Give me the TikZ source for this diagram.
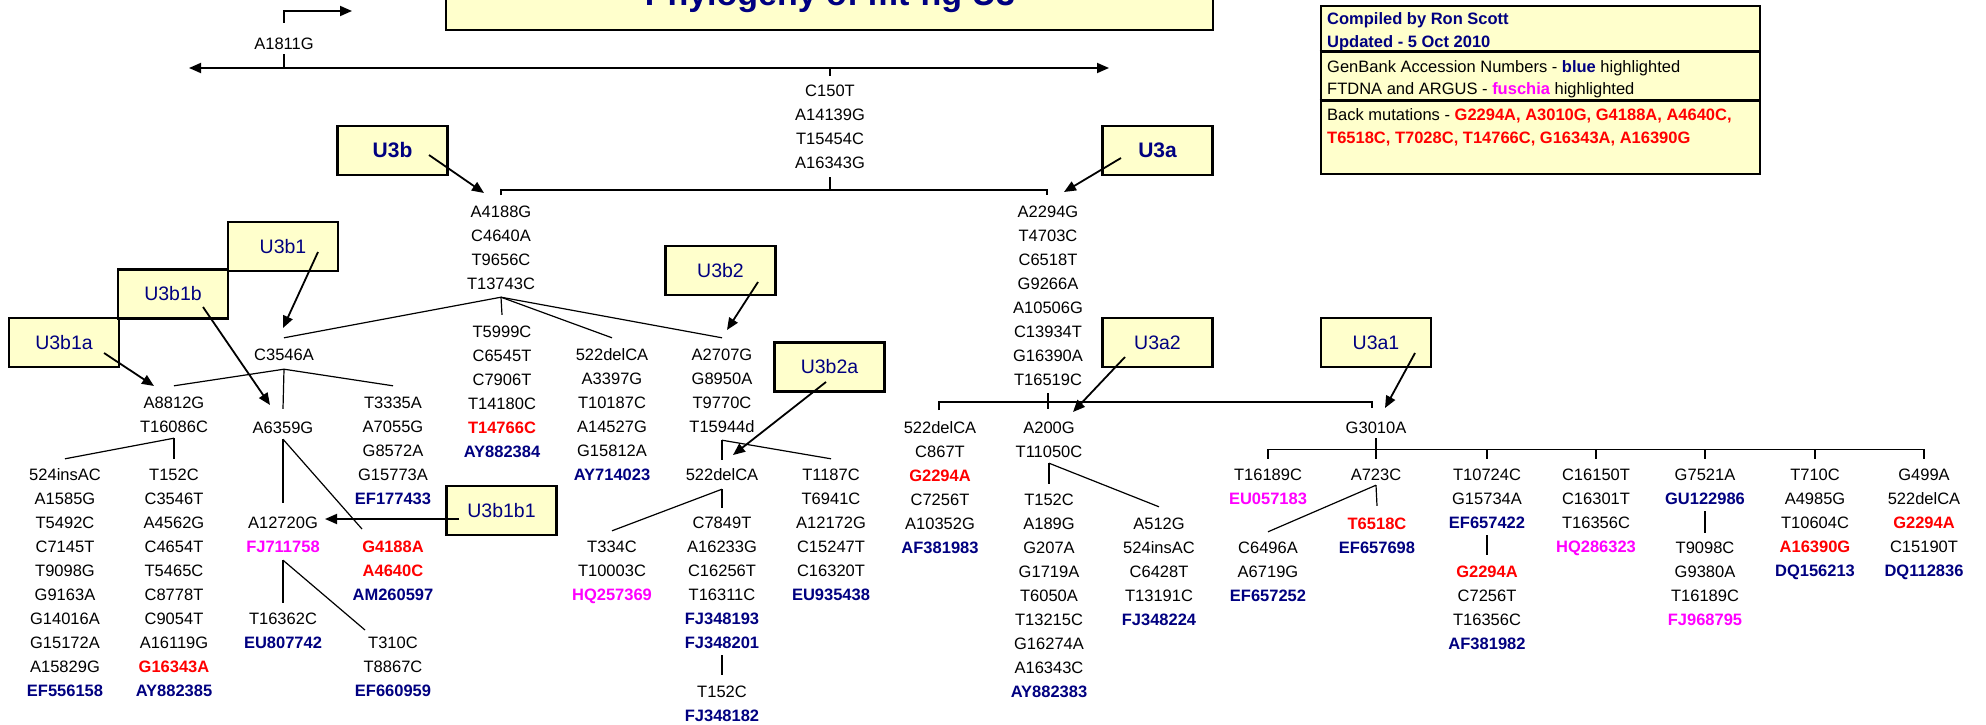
\documentclass[tikz,border=0pt]{standalone}
\usepackage{fontspec}
\setmainfont{Liberation Sans}
\usetikzlibrary{arrows.meta}
\definecolor{hgnavy}{RGB}{0,0,128}
\definecolor{hgred}{RGB}{255,0,0}
\definecolor{hgpink}{RGB}{255,0,255}
\definecolor{hgyellow}{RGB}{255,255,204}
\newcommand{\gbk}[1]{\textbf{\color{hgnavy}#1}}
\newcommand{\ftd}[1]{\textbf{\color{hgpink}#1}}
\newcommand{\bmut}[1]{\textbf{\color{hgred}#1}}
\begin{document}
\begin{tikzpicture}[x=1pt,y=-1pt,
   mut/.style={font=\fontsize{16.5}{20}\selectfont,inner sep=0pt,text height=12pt,text depth=0pt},
   legend/.style={mut,anchor=west},
   tree/.style={line width=1.2pt},
   hgarrow/.style={line width=1.8pt,-{Triangle[length=12pt,width=10pt]}},
   hgspan/.style={line width=1.8pt,{Triangle[length=12pt,width=10pt]}-{Triangle[length=12pt,width=10pt]}},
   hgbox/.style={draw,line width=2.8pt,fill=hgyellow,text=hgnavy,minimum width=110pt,minimum height=49pt,inner sep=0pt,font=\fontsize{19.5}{22}\selectfont},
   hgbold/.style={hgbox,font=\bfseries\fontsize{21}{24}\selectfont}]
   \useasboundingbox (0,0) rectangle (1986,725);
   \clip (0,0) rectangle (1986,725);

   % title and legend
   \node[draw,line width=2.8pt,fill=hgyellow,minimum width=767pt,minimum height=100pt,inner sep=0pt] (title-box) at (829.5,-20) {};
   \node[anchor=base,inner sep=0pt,text=hgnavy,font=\bfseries\fontsize{34}{40}\selectfont] (title) at (830,6) {Phylogeny of mt-hg U3};
   \node[draw,line width=2.8pt,fill=hgyellow,minimum width=439pt,minimum height=168pt,inner sep=0pt] (legend-box) at (1540.5,90) {};
   \draw[line width=2.8pt] ([yshift=-47pt]legend-box.north west) -- ([yshift=-47pt]legend-box.north east);
   \draw[line width=2.8pt] ([yshift=-96pt]legend-box.north west) -- ([yshift=-96pt]legend-box.north east);
   \node[legend] (lg-1) at (1327,19) {\textbf{\color{hgnavy}Compiled by Ron Scott}};
   \node[legend] (lg-2) at (1327,42) {\textbf{\color{hgnavy}Updated - 5 Oct 2010}};
   \node[legend] (lg-3) at (1327,66) {GenBank Accession Numbers - \gbk{blue} highlighted};
   \node[legend] (lg-4) at (1327,89) {FTDNA and ARGUS - \ftd{fuschia} highlighted};
   \node[legend] (lg-5) at (1327,114) {Back mutations - \bmut{G2294A, A3010G, G4188A, A4640C,}};
   \node[legend] (lg-6) at (1327,137) {\bmut{T6518C, T7028C, T14766C, G16343A, A16390G}};

   % root
   \node[mut] (a1811) at (284,43) {A1811G};
   \coordinate (a1811-to) at (352,11);
   \draw[hgarrow] ([yshift=14pt]a1811.north) |- (a1811-to);
   \draw[tree] ([yshift=-5pt]a1811.south) -- ++(0,14);
   \coordinate (span-l) at (189,68);
   \coordinate (span-r) at (1109,68);
   \coordinate (span-m) at (830,68);
   \draw[hgspan] (span-l) -- (span-r);
   \foreach \m [count=\i from 0] in {C150T,A14139G,T15454C,A16343G}
      \node[mut] (root-\i) at (830,90+24*\i) {\m};
   \draw[tree] (span-m) -- ([yshift=8pt]root-0.north);
   \coordinate (u3-bar) at (830,190);
   \coordinate (u3b-top) at (501,195);
   \coordinate (u3a-top) at (1047,195);
   \draw[tree] ([yshift=-9pt]root-3.south) -- (u3-bar);
   \draw[tree] (u3b-top) -- ++(0,-5) -| (u3a-top);

   % U3b
   \foreach \m [count=\i from 0] in {A4188G,C4640A,T9656C,T13743C}
      \node[mut] (u3bm-\i) at (501,211+24*\i) {\m};
   \node[mut] (c3546a) at (284,354) {C3546A};
   \foreach \m [count=\i from 0] in {A8812G,T16086C}
      \node[mut] (b1a-\i) at (174,402+24*\i) {\m};
   \node[mut] (a6359g) at (283,427) {A6359G};
   \foreach \m [count=\i from 0] in {T3335A,A7055G,G8572A,G15773A,\gbk{EF177433}}
      \node[mut] (t3335a-\i) at (393,402+24*\i) {\m};
   \foreach \m [count=\i from 0] in {524insAC,A1585G,T5492C,C7145T,T9098G,G9163A,G14016A,G15172A,A15829G,\gbk{EF556158}}
      \node[mut] (la-\i) at (65,474+24*\i) {\m};
   \foreach \m [count=\i from 0] in {T152C,C3546T,A4562G,C4654T,T5465C,C8778T,C9054T,A16119G,\bmut{G16343A},\gbk{AY882385}}
      \node[mut] (lb-\i) at (174,474+24*\i) {\m};
   \foreach \m [count=\i from 0] in {A12720G,\ftd{FJ711758}}
      \node[mut] (b1b1-\i) at (283,522+24*\i) {\m};
   \foreach \m [count=\i from 0] in {\bmut{G4188A},\bmut{A4640C},\gbk{AM260597}}
      \node[mut] (g4188a-\i) at (393,546+24*\i) {\m};
   \foreach \m [count=\i from 0] in {T16362C,\gbk{EU807742}}
      \node[mut] (t16362c-\i) at (283,618+24*\i) {\m};
   \foreach \m [count=\i from 0] in {T310C,T8867C,\gbk{EF660959}}
      \node[mut] (t310c-\i) at (393,642+24*\i) {\m};
   \foreach \m [count=\i from 0] in {T5999C,C6545T,C7906T,T14180C,\bmut{T14766C},\gbk{AY882384}}
      \node[mut] (t5999c-\i) at (502,331+24*\i) {\m};
   \foreach \m [count=\i from 0] in {522delCA,A3397G,T10187C,A14527G,G15812A,\gbk{AY714023}}
      \node[mut] (dca-\i) at (612,354+24*\i) {\m};
   \foreach \m [count=\i from 0] in {A2707G,G8950A,T9770C,T15944d}
      \node[mut] (b2-\i) at (722,354+24*\i) {\m};
   \node[mut] (b2a) at (722,474) {522delCA};
   \foreach \m [count=\i from 0] in {C7849T,A16233G,C16256T,T16311C,\gbk{FJ348193},\gbk{FJ348201}}
      \node[mut] (c7849t-\i) at (722,522+24*\i) {\m};
   \foreach \m [count=\i from 0] in {T152C,\gbk{FJ348182}}
      \node[mut] (t152c3-\i) at (722,691+24*\i) {\m};
   \foreach \m [count=\i from 0] in {T334C,T10003C,\ftd{HQ257369}}
      \node[mut] (t334c-\i) at (612,546+24*\i) {\m};
   \foreach \m [count=\i from 0] in {T1187C,T6941C,A12172G,C15247T,C16320T,\gbk{EU935438}}
      \node[mut] (t1187c-\i) at (831,474+24*\i) {\m};

   \coordinate (fk-u3b) at ([yshift=-8pt]u3bm-3.south);
   \draw[tree] (fk-u3b) -- ([yshift=10pt]c3546a.north);
   \draw[tree] (fk-u3b) -- ([yshift=10pt]t5999c-0.north);
   \draw[tree] (fk-u3b) -- ([yshift=10pt]dca-0.north);
   \draw[tree] (fk-u3b) -- ([yshift=10pt]b2-0.north);
   \coordinate (fk-c3546a) at ([yshift=-9pt]c3546a.south);
   \draw[tree] (fk-c3546a) -- ([yshift=10pt]b1a-0.north);
   \draw[tree] (fk-c3546a) -- ([yshift=12pt]a6359g.north);
   \draw[tree] (fk-c3546a) -- ([yshift=10pt]t3335a-0.north);
   \coordinate (fk-t16086c) at ([yshift=-6pt]b1a-1.south);
   \draw[tree] (fk-t16086c) -- ([yshift=9pt]la-0.north);
   \draw[tree] (fk-t16086c) -- ([yshift=9pt]lb-0.north);
   \coordinate (fk-a6359g) at ([yshift=-6pt]a6359g.south);
   \coordinate (g4188a-end) at (362,529);
   \draw[tree] (fk-a6359g) -- ([yshift=13pt]b1b1-0.north);
   \draw[tree] (fk-a6359g) -- (g4188a-end);
   \coordinate (fk-a12720g) at ([yshift=-8pt]b1b1-1.south);
   \coordinate (t310c-end) at (365,630);
   \draw[tree] (fk-a12720g) -- ([yshift=9pt]t16362c-0.north);
   \draw[tree] (fk-a12720g) -- (t310c-end);
   \coordinate (fk-t15944d) at ([yshift=-8pt]b2-3.south);
   \draw[tree] (fk-t15944d) -- ([yshift=8pt]b2a.north);
   \draw[tree] (fk-t15944d) -- ([yshift=9pt]t1187c-0.north);
   \coordinate (fk-b2a) at ([yshift=-9pt]b2a.south);
   \draw[tree] (fk-b2a) -- ([yshift=8pt]c7849t-0.north);
   \draw[tree] (fk-b2a) -- ([yshift=9pt]t334c-0.north);
   \draw[tree] ([yshift=-7pt]c7849t-5.south) -- ([yshift=10pt]t152c3-0.north);

   % U3a
   \foreach \m [count=\i from 0] in {A2294G,T4703C,C6518T,G9266A,A10506G,C13934T,G16390A,T16519C}
      \node[mut] (u3am-\i) at (1048,211+24*\i) {\m};
   \foreach \m [count=\i from 0] in {522delCA,C867T,\bmut{G2294A},C7256T,A10352G,\gbk{AF381983}}
      \node[mut] (dca3-\i) at (940,427+24*\i) {\m};
   \foreach \m [count=\i from 0] in {A200G,T11050C}
      \node[mut] (a2-\i) at (1049,427+24*\i) {\m};
   \foreach \m [count=\i from 0] in {T152C,A189G,G207A,G1719A,T6050A,T13215C,G16274A,A16343C,\gbk{AY882383}}
      \node[mut] (t152c2-\i) at (1049,499+24*\i) {\m};
   \foreach \m [count=\i from 0] in {A512G,524insAC,C6428T,T13191C,\gbk{FJ348224}}
      \node[mut] (a512g-\i) at (1159,523+24*\i) {\m};
   \node[mut] (g3010a) at (1376,427) {G3010A};
   \foreach \m [count=\i from 0] in {T16189C,\ftd{EU057183}}
      \node[mut] (r1-\i) at (1268,474+24*\i) {\m};
   \foreach \m [count=\i from 0] in {C6496A,A6719G,\gbk{EF657252}}
      \node[mut] (r1b-\i) at (1268,547+24*\i) {\m};
   \node[mut] (r2-0) at (1376,474) {A723C};
   \foreach \m [count=\i from 0] in {\bmut{T6518C},\gbk{EF657698}}
      \node[mut] (r2b-\i) at (1377,523+24*\i) {\m};
   \foreach \m [count=\i from 0] in {T10724C,G15734A,\gbk{EF657422}}
      \node[mut] (r3-\i) at (1487,474+24*\i) {\m};
   \foreach \m [count=\i from 0] in {\bmut{G2294A},C7256T,T16356C,\gbk{AF381982}}
      \node[mut] (r3b-\i) at (1487,571+24*\i) {\m};
   \foreach \m [count=\i from 0] in {C16150T,C16301T,T16356C,\ftd{HQ286323}}
      \node[mut] (r4-\i) at (1596,474+24*\i) {\m};
   \foreach \m [count=\i from 0] in {G7521A,\gbk{GU122986}}
      \node[mut] (r5-\i) at (1705,474+24*\i) {\m};
   \foreach \m [count=\i from 0] in {T9098C,G9380A,T16189C,\ftd{FJ968795}}
      \node[mut] (r5b-\i) at (1705,547+24*\i) {\m};
   \foreach \m [count=\i from 0] in {T710C,A4985G,T10604C,\bmut{A16390G},\gbk{DQ156213}}
      \node[mut] (r6-\i) at (1815,474+24*\i) {\m};
   \foreach \m [count=\i from 0] in {G499A,522delCA,\bmut{G2294A},C15190T,\gbk{DQ112836}}
      \node[mut] (r7-\i) at (1924,474+24*\i) {\m};

   \coordinate (u3a-drop) at (1048,409);
   \coordinate (dca3-top) at (939,410);
   \coordinate (g3010a-top) at (1372,408);
   \draw[tree] ([yshift=-8pt]u3am-7.south) -- (u3a-drop);
   \draw[tree] (dca3-top) -- ++(0,-8) -| (g3010a-top);
   \coordinate (fk-a2) at ([yshift=-6pt]a2-1.south);
   \draw[tree] (fk-a2) -- ([yshift=9pt]t152c2-0.north);
   \draw[tree] (fk-a2) -- ([yshift=10pt]a512g-0.north);
   \draw[tree] ([yshift=-5pt]g3010a.south) -- ([yshift=9pt]r2-0.north);
   \draw[tree] ([yshift=9pt]r1-0.north) -- ++(0,-9) -| ([yshift=9pt]r7-0.north);
   \foreach \c in {r3,r4,r5,r6}
      \draw[tree] ([yshift=9pt]\c-0.north) -- ++(0,-9);
   \coordinate (fk-r2) at ([yshift=-5pt]r2-0.south);
   \draw[tree] (fk-r2) -- ([yshift=11pt]r2b-0.north);
   \draw[tree] (fk-r2) -- ([yshift=9pt]r1b-0.north);
   \draw[tree] ([yshift=-7pt]r3-2.south) -- ([yshift=10pt]r3b-0.north);
   \draw[tree] ([yshift=-7pt]r5-1.south) -- ([yshift=8pt]r5b-0.north);

   % haplogroup labels
   \node[hgbold] (u3b) at (392.5,150.5) {U3b};
   \node[hgbold] (u3a) at (1157.5,150.5) {U3a};
   \node[hgbox] (u3b1a) at (64,342.5) {U3b1a};
   \node[hgbox] (u3b1b) at (173,294) {U3b1b};
   \node[hgbox] (u3b1) at (283,246.5) {U3b1};
   \node[hgbox] (u3b1b1) at (501.5,510.5) {U3b1b1};
   \node[hgbox] (u3b2) at (720.5,270.5) {U3b2};
   \node[hgbox] (u3b2a) at (829.5,367) {U3b2a};
   \node[hgbox] (u3a2) at (1157.5,342.5) {U3a2};
   \node[hgbox] (u3a1) at (1376,342.5) {U3a1};
   \coordinate (u3b-tip) at (484,193);
   \coordinate (u3a-tip) at (1064,192);
   \coordinate (u3b1-tip) at (283,328);
   \coordinate (u3b1b-tip) at (270,405);
   \coordinate (u3b1a-tip) at (154,386);
   \coordinate (u3b1b1-tip) at (325,519);
   \coordinate (u3b2-tip) at (727,330);
   \coordinate (u3b2a-tip) at (733,455);
   \coordinate (u3a2-tip) at (1073,412);
   \coordinate (u3a1-tip) at (1385,408);
   \draw[hgarrow] ([shift={(36.5,4.5)}]u3b.center) -- (u3b-tip);
   \draw[hgarrow] ([shift={(-36.5,7.5)}]u3a.center) -- (u3a-tip);
   \draw[hgarrow] ([shift={(35,5.5)}]u3b1.center) -- (u3b1-tip);
   \draw[hgarrow] ([shift={(30,13)}]u3b1b.center) -- (u3b1b-tip);
   \draw[hgarrow] ([shift={(40,10.5)}]u3b1a.center) -- (u3b1a-tip);
   \draw[hgarrow] ([shift={(-42.5,8.5)}]u3b1b1.center) -- (u3b1b1-tip);
   \draw[hgarrow] ([shift={(37.5,11.5)}]u3b2.center) -- (u3b2-tip);
   \draw[hgarrow] ([shift={(-3.5,15)}]u3b2a.center) -- (u3b2a-tip);
   \draw[hgarrow] ([shift={(-32.5,14.5)}]u3a2.center) -- (u3a2-tip);
   \draw[hgarrow] ([shift={(39,10.5)}]u3a1.center) -- (u3a1-tip);
\end{tikzpicture}
\end{document}
